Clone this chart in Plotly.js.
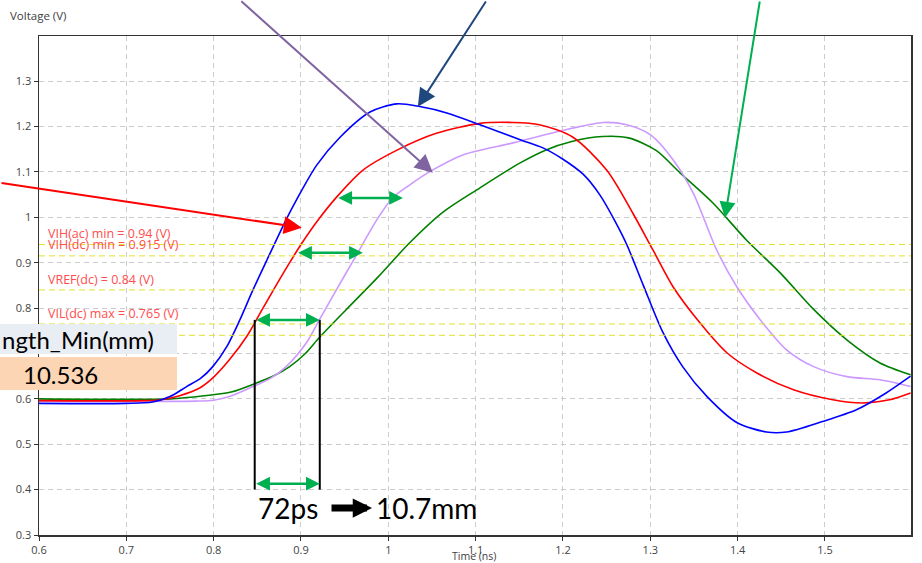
<!DOCTYPE html>
<html>
<head>
<meta charset="utf-8">
<script src="https://cdn.plot.ly/plotly-3.0.1.min.js"></script>
<style>html,body{margin:0;padding:0;background:#fff;}#chart{width:922px;height:563px;}</style>
</head>
<body>
<div id="chart"></div>
<script>
// ---- data ----
var tBlue = [0.60,0.70,0.73,0.75,0.769,0.785,0.799,0.815,0.83,0.845,0.861,0.883,0.895,0.918,0.945,0.979,1.01,1.036,1.067,1.105,1.151,1.177,1.2,1.223,1.242,1.26,1.273,1.292,1.314,1.337,1.365,1.399,1.433,1.456,1.497,1.536,1.570,1.598];
var vBlue = [0.590,0.590,0.593,0.605,0.627,0.645,0.671,0.715,0.774,0.840,0.906,0.995,1.039,1.115,1.177,1.232,1.250,1.244,1.230,1.204,1.171,1.153,1.128,1.095,1.050,0.990,0.940,0.850,0.748,0.671,0.605,0.548,0.527,0.527,0.550,0.576,0.613,0.650];

var tRed = [0.60,0.72,0.74,0.761,0.784,0.80,0.818,0.838,0.855,0.87,0.887,0.90,0.92,0.941,0.971,1.01,1.055,1.105,1.143,1.173,1.211,1.25,1.28,1.303,1.326,1.357,1.388,1.422,1.464,1.509,1.543,1.574,1.598];
var vRed = [0.596,0.596,0.598,0.607,0.624,0.648,0.686,0.738,0.795,0.845,0.900,0.940,0.995,1.045,1.104,1.148,1.185,1.207,1.209,1.204,1.177,1.104,1.009,0.928,0.847,0.767,0.701,0.657,0.620,0.598,0.591,0.598,0.613];

var tPurple = [0.60,0.78,0.80,0.818,0.845,0.865,0.883,0.906,0.921,0.941,0.96,0.987,1.005,1.025,1.047,1.086,1.143,1.208,1.246,1.273,1.30,1.326,1.349,1.376,1.399,1.426,1.456,1.487,1.525,1.563,1.598];
var vPurple = [0.595,0.595,0.597,0.605,0.627,0.645,0.671,0.723,0.774,0.842,0.905,0.995,1.043,1.072,1.100,1.138,1.164,1.195,1.209,1.204,1.182,1.127,1.054,0.928,0.847,0.774,0.708,0.671,0.649,0.642,0.627];

var tGreen = [0.60,0.75,0.79,0.82,0.849,0.87,0.887,0.905,0.921,0.952,0.987,1.025,1.063,1.105,1.151,1.18,1.21,1.245,1.275,1.307,1.334,1.372,1.41,1.449,1.487,1.525,1.563,1.598];
var vGreen = [0.600,0.600,0.607,0.615,0.635,0.652,0.671,0.700,0.735,0.797,0.866,0.945,1.012,1.065,1.120,1.148,1.167,1.178,1.175,1.147,1.098,1.031,0.950,0.877,0.797,0.730,0.679,0.653];

var levelValues = [0.94, 0.915, 0.84, 0.765, 0.74];
var levelLabels = ["VIH(ac) min = 0.94 (V)", "VIH(dc) min = 0.915 (V)", "VREF(dc) = 0.84 (V)", "VIL(dc) max = 0.765 (V)"];
var levelLabelY = [0.9636, 0.939, 0.862, 0.789];

var yTickVals = [0.3, 0.4, 0.5, 0.6, 0.7, 0.8, 0.9, 1.0, 1.1, 1.2, 1.3];
var yTickText = ["0.3", "0.4", "0.5", "0.6", "", "0.8", "0.9", "1", "1.1", "1.2", "1.3"];

var xTitle = "Time (ns)";
var yTitle = "Voltage (V)";
var tableHeader = "ngth_Min(mm)";
var tableValue = "10.536";
var delayText = "72ps";
var lengthText = "10.7mm";

// ---- traces ----
function curve(t, v, color) {
  return {x: t, y: v, type: 'scatter', mode: 'lines', hoverinfo: 'skip',
          line: {color: color, width: 1.6, shape: 'spline', smoothing: 0.8}};
}
var traces = [
  curve(tGreen, vGreen, '#008000'),
  curve(tPurple, vPurple, '#cc99ff'),
  curve(tRed, vRed, '#ff0000'),
  curve(tBlue, vBlue, '#0000ff')
];

// ---- shapes ----
var shapes = levelValues.map(function (v) {
  return {type: 'line', xref: 'paper', x0: 0, x1: 1, yref: 'y', y0: v, y1: v,
          line: {color: '#e2e22a', width: 1, dash: '6px,4px'}, layer: 'above'};
});
[0.847, 0.9215].forEach(function (xv) {
  shapes.push({type: 'line', xref: 'x', yref: 'y', x0: xv, x1: xv, y0: 0.4, y1: 0.774,
               line: {color: '#000000', width: 2}, layer: 'above'});
});
shapes.push({type: 'rect', xref: 'paper', yref: 'paper', x0: -0.06, x1: 0.1583, y0: 0.3627, y1: 0.4228,
             fillcolor: '#e9edf4', line: {width: 0}, layer: 'above'});
shapes.push({type: 'rect', xref: 'paper', yref: 'paper', x0: -0.06, x1: 0.1583, y0: 0.2906, y1: 0.3567,
             fillcolor: '#fcd5b5', line: {width: 0}, layer: 'above'});

// ---- annotations ----
var ann = [];
var redFont = {family: 'Open Sans, sans-serif', size: 12.5, color: '#ff4d4d'};
levelLabels.forEach(function (txt, i) {
  ann.push({xref: 'x', yref: 'y', x: 0.609, y: levelLabelY[i], text: txt, showarrow: false,
            xanchor: 'left', yanchor: 'middle', borderpad: 0, font: redFont});
});
ann.push({xref: 'paper', yref: 'paper', x: -0.0356, y: 1.042, text: yTitle, showarrow: false,
          xanchor: 'left', yanchor: 'middle', font: {family: 'Open Sans, sans-serif', size: 11.5, color: '#404040'}});
ann.push({xref: 'paper', yref: 'paper', x: 0.4985, y: -0.0425, text: xTitle, showarrow: false,
          xanchor: 'center', yanchor: 'middle', borderpad: 0, font: {family: 'Open Sans, sans-serif', size: 10.5, color: '#404040'}});

function pointer(x, y, ax, ay, color, size) {
  return {xref: 'x', yref: 'y', x: x, y: y, ax: ax, ay: ay, text: '', showarrow: true,
          arrowhead: 2, arrowsize: size, arrowwidth: 2, arrowcolor: color, standoff: 0};
}
ann.push(pointer(1.051, 1.098, -193, -173, '#8064a2', 1.8));
ann.push(pointer(1.0338, 1.2434, 69, -107, '#1f497d', 1.8));
ann.push(pointer(1.3855, 0.999, 35, -218, '#00b050', 1.6));
ann.push(pointer(0.9009, 0.977, -302, -45, '#ff0000', 1.8));

function dbl(x0, x1, y) {
  return {xref: 'x', yref: 'y', x: x1, y: y, axref: 'x', ayref: 'y', ax: x0, ay: y, text: '',
          showarrow: true, arrowside: 'end+start', arrowhead: 2, startarrowhead: 2,
          arrowsize: 1.1, startarrowsize: 1.1, arrowwidth: 2.5, arrowcolor: '#00b050',
          standoff: 0, startstandoff: 0};
}
ann.push(dbl(0.941, 1.0167, 1.0427));
ann.push(dbl(0.895, 0.9708, 0.9218));
ann.push(dbl(0.847, 0.9215, 0.774));
ann.push(dbl(0.847, 0.9215, 0.413));

var bigFont = {family: 'Lato, sans-serif', size: 24, color: '#000000'};
var hugeFont = {family: 'Lato, sans-serif', size: 28, color: '#000000'};
ann.push({xref: 'paper', yref: 'paper', x: -0.0447, y: 0.3908, text: tableHeader, showarrow: false,
          xanchor: 'left', yanchor: 'middle', font: bigFont});
ann.push({xref: 'paper', yref: 'paper', x: 0.0252, y: 0.3226, text: tableValue, showarrow: false,
          xanchor: 'center', yanchor: 'middle', font: bigFont});
ann.push({xref: 'paper', yref: 'paper', x: 0.2856, y: 0.054, text: delayText, showarrow: false,
          xanchor: 'center', yanchor: 'middle', font: hugeFont});
ann.push({xref: 'paper', yref: 'paper', x: 0.3842, y: 0.054, text: lengthText, showarrow: false,
          xanchor: 'left', yanchor: 'middle', font: hugeFont});
ann.push({xref: 'paper', yref: 'paper', x: 0.3819, y: 0.054, ax: -42, ay: 0, text: '', showarrow: true,
          arrowhead: 2, arrowsize: 0.55, arrowwidth: 7, arrowcolor: '#000000', standoff: 0});

var axisCommon = {
  showgrid: true, gridcolor: '#cccccc', gridwidth: 1, griddash: '5px,4px',
  zeroline: false, showline: true, mirror: true, linecolor: '#333333', linewidth: 1.5,
  ticks: 'outside', ticklen: 4, tickcolor: '#333333',
  tickfont: {family: 'Open Sans, sans-serif', size: 11, color: '#444444'},
  fixedrange: true
};
var layout = {
  width: 922, height: 563,
  margin: {l: 39, r: 11, t: 36, b: 28, pad: 0},
  paper_bgcolor: '#ffffff', plot_bgcolor: '#ffffff',
  showlegend: false,
  xaxis: Object.assign({}, axisCommon, {range: [0.6, 1.5985], dtick: 0.1, tick0: 0.6}),
  yaxis: Object.assign({}, axisCommon, {range: [0.3, 1.3995], tickmode: 'array', tickvals: yTickVals, ticktext: yTickText}),
  shapes: shapes,
  annotations: ann
};
Plotly.newPlot('chart', traces, layout, {displayModeBar: false, staticPlot: true});
</script>
</body>
</html>
